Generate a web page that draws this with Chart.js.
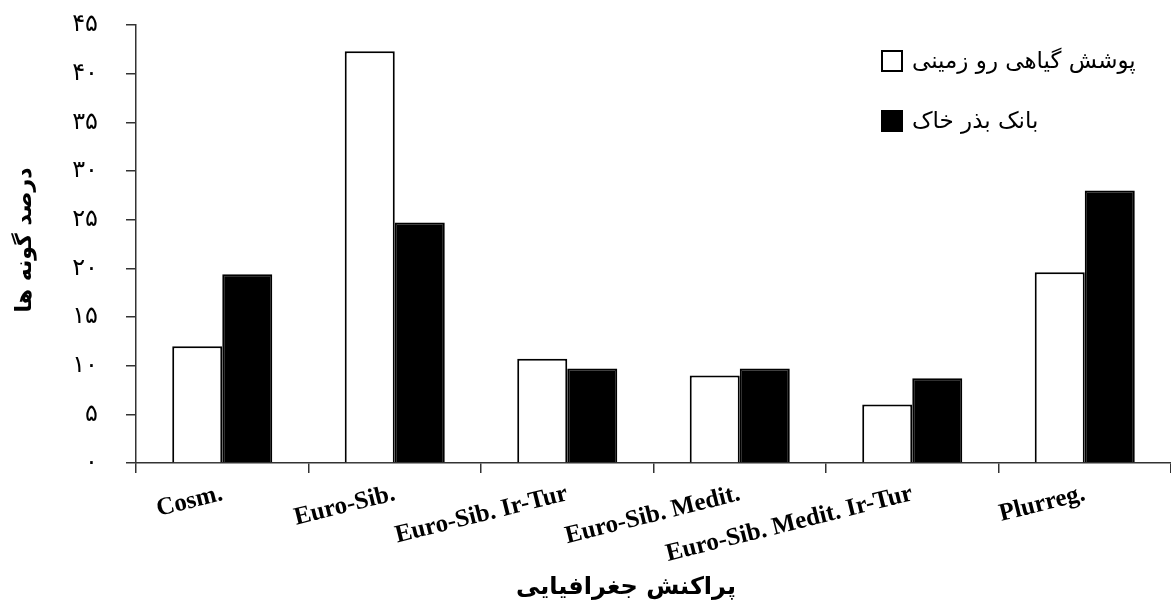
<!DOCTYPE html>
<html>
<head>
<meta charset="utf-8">
<script src="https://cdn.jsdelivr.net/npm/chart.js@4.4.1/dist/chart.umd.min.js"></script>
<style>
    html, body { margin: 0; padding: 0; background: #fff; overflow: hidden; }
    #wrap { width: 1171px; height: 612px; }
</style>
</head>
<body>
<div id="wrap"><canvas id="chart" width="1171" height="612"></canvas></div>
<script>
// categories and values
const categories = ['Cosm.', 'Euro-Sib.', 'Euro-Sib. Ir-Tur', 'Euro-Sib. Medit.', 'Euro-Sib. Medit. Ir-Tur', 'Plurreg.'];
const vegetationValues = [12.0, 42.3, 10.7, 9.0, 6.0, 19.6];
const seedBankValues = [19.4, 24.7, 9.7, 9.7, 8.7, 28.0];
const seriesLabels = ['پوشش گیاهی رو زمینی', 'بانک بذر خاک'];
const yTitle = 'درصد گونه ها';
const xTitle = 'پراکنش جغرافیایی';
const persianDigits = ['۰', '۱', '۲', '۳', '۴', '۵', '۶', '۷', '۸', '۹'];

const toPersian = value => String(value).replace(/[0-9]/g, d => persianDigits[d]);

// legend boxes + axis titles drawn on the canvas
const extrasPlugin = {
    id: 'extras',
    afterDraw(chart) {
        const ctx = chart.ctx;
        const area = chart.chartArea;
        ctx.save();

        // legend
        chart.data.datasets.forEach((ds, i) => {
            const boxX = 882, boxY = 51 + i * 60, size = 20;
            ctx.fillStyle = ds.backgroundColor;
            ctx.fillRect(boxX, boxY, size, size);
            ctx.lineWidth = 2;
            ctx.strokeStyle = '#000';
            ctx.strokeRect(boxX, boxY, size, size);
            ctx.fillStyle = '#000';
            ctx.font = '23px "DejaVu Sans"';
            ctx.textAlign = 'left';
            ctx.textBaseline = 'middle';
            ctx.fillText(ds.label, boxX + 30, boxY + size / 2 + 1);
        });

        // y title
        ctx.font = 'bold 22px "DejaVu Sans"';
        ctx.textAlign = 'center';
        ctx.textBaseline = 'middle';
        ctx.translate(25, area.top + 215);
        ctx.rotate(-Math.PI / 2);
        ctx.fillText(yTitle, 0, 0);
        ctx.restore();

        // x title
        ctx.save();
        ctx.font = 'bold 24px "DejaVu Sans"';
        ctx.fillStyle = '#000';
        ctx.textAlign = 'center';
        ctx.textBaseline = 'middle';
        ctx.fillText(xTitle, area.left + 490, 588);
        ctx.restore();
    }
};

new Chart(document.getElementById('chart'), {
    type: 'bar',
    data: {
        labels: categories,
        datasets: [{
            label: seriesLabels[0],
            data: vegetationValues,
            backgroundColor: '#ffffff',
            borderColor: '#000000',
            borderWidth: 2,
            borderSkipped: 'bottom',
        }, {
            label: seriesLabels[1],
            data: seedBankValues,
            backgroundColor: '#000000',
            borderColor: '#000000',
            borderWidth: 2,
            borderSkipped: 'bottom',
        }]
    },
    options: {
        responsive: false,
        animation: false,
        layout: { padding: { top: 25, right: 0, bottom: 0, left: 0 } },
        plugins: {
            legend: { display: false },
            tooltip: { enabled: false }
        },
        datasets: {
            bar: { categoryPercentage: 0.58, barPercentage: 1.0 }
        },
        scales: {
            x: {
                afterFit: scale => {
                    scale.height = 149;
                    scale.paddingLeft = 0;
                    scale.paddingRight = 0;
                },
                grid: { offset: true, drawOnChartArea: false, tickLength: 10, color: '#333', lineWidth: 1.5 },
                border: { color: '#333', width: 1.5 },
                ticks: {
                    autoSkip: false,
                    minRotation: 14,
                    maxRotation: 14,
                    padding: 6,
                    color: '#000',
                    font: { family: '"Liberation Serif"', weight: 'bold', size: 25 }
                }
            },
            y: {
                min: 0,
                max: 45,
                afterFit: scale => {
                    scale.width = 136;
                    scale.paddingTop = 0;
                    scale.paddingBottom = 0;
                },
                grid: { drawOnChartArea: false, tickLength: 10, color: '#333', lineWidth: 1.5 },
                border: { color: '#333', width: 1.5 },
                ticks: {
                    stepSize: 5,
                    padding: 28,
                    color: '#000',
                    font: { family: '"DejaVu Sans"', size: 24 },
                    callback: value => toPersian(value)
                }
            }
        }
    },
    plugins: [extrasPlugin]
});
</script>
</body>
</html>
